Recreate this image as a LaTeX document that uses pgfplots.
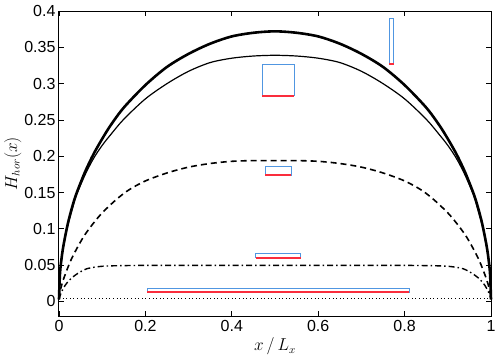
\documentclass[border=0pt]{standalone}
\usepackage{fontspec}
\setmainfont{Liberation Sans}
\usepackage{pgfplots}
\pgfplotsset{compat=1.18}
\usetikzlibrary{calc}

\definecolor{rblue}{RGB}{80,150,225}
\definecolor{rred}{RGB}{250,45,60}

\begin{document}
\begin{tikzpicture}
\begin{axis}[
    name=ax,
    scale only axis,
    width=432pt, height=305pt,
    xmin=0, xmax=1,
    ymin=-0.02, ymax=0.4,
    xtick={0,0.2,0.4,0.6,0.8,1},
    ytick={0,0.05,0.1,0.15,0.2,0.25,0.3,0.35,0.4},
    yticklabels={0,0.05,0.1,0.15,0.2,0.25,0.3,0.35,0.4},
    xticklabels={0,0.2,0.4,0.6,0.8,1},
    tick align=inside,
    tick pos=both,
    major tick length=5pt,
    axis line style={line width=1pt},
    tick style={line width=0.8pt, black},
    ticklabel style={font=\fontsize{16}{18}\selectfont},
    xticklabel style={yshift=-1pt},
    /pgf/number format/assume math mode=true,
    xlabel={$x\,/\,L_x$},
    ylabel={$H_{hor}(x)$},
    label style={font=\fontsize{16}{19}\selectfont},
    xlabel style={yshift=1pt},
    ylabel style={yshift=-4pt},
    clip=false,
]
% thick solid
\addplot[black, line width=2.6pt, smooth] coordinates {
(0,0.003) (0.002,0.036) (0.005,0.055) (0.01,0.076) (0.02,0.106) (0.03,0.129)
(0.04,0.148) (0.06,0.178) (0.08,0.203) (0.1,0.224) (0.12,0.243) (0.15,0.267)
(0.2,0.298) (0.25,0.323) (0.3,0.341) (0.35,0.355) (0.4,0.365) (0.45,0.370)
(0.5,0.372) (0.55,0.370) (0.6,0.365) (0.65,0.355) (0.7,0.341) (0.75,0.323)
(0.8,0.298) (0.85,0.267) (0.88,0.243) (0.9,0.224) (0.92,0.203) (0.94,0.178)
(0.96,0.148) (0.97,0.129) (0.98,0.106) (0.99,0.076) (0.995,0.055) (0.998,0.036) (1,0.003)};
% thin solid
\addplot[black, line width=1.2pt, smooth] coordinates {
(0,0.003) (0.002,0.035) (0.005,0.054) (0.01,0.075) (0.02,0.104) (0.03,0.126)
(0.04,0.146) (0.06,0.174) (0.08,0.197) (0.1,0.215) (0.12,0.230) (0.15,0.251)
(0.2,0.279) (0.25,0.300) (0.3,0.317) (0.35,0.329) (0.4,0.335) (0.45,0.338)
(0.5,0.339) (0.55,0.338) (0.6,0.335) (0.65,0.329) (0.7,0.317) (0.75,0.300)
(0.8,0.279) (0.85,0.251) (0.88,0.230) (0.9,0.215) (0.92,0.197) (0.94,0.174)
(0.96,0.146) (0.97,0.126) (0.98,0.104) (0.99,0.075) (0.995,0.054) (0.998,0.035) (1,0.003)};
% dashed
\addplot[black, line width=1.6pt, smooth, dash pattern=on 6pt off 4pt] coordinates {
(0,0.003) (0.002,0.012) (0.005,0.020) (0.01,0.030) (0.02,0.046) (0.03,0.060)
(0.045,0.077) (0.06,0.092) (0.08,0.108) (0.1,0.122) (0.13,0.139) (0.16,0.153)
(0.2,0.166) (0.25,0.177) (0.3,0.185) (0.35,0.190) (0.4,0.193) (0.45,0.194)
(0.5,0.194) (0.55,0.194) (0.6,0.193) (0.65,0.190) (0.7,0.185) (0.75,0.177)
(0.8,0.166) (0.84,0.153) (0.87,0.139) (0.9,0.122) (0.92,0.108) (0.94,0.092)
(0.955,0.077) (0.97,0.060) (0.98,0.046) (0.99,0.030) (0.995,0.020) (0.998,0.012) (1,0.003)};
% dash-dot
\addplot[black, line width=1.4pt, smooth, dash pattern=on 6pt off 3pt on 1.5pt off 3pt] coordinates {
(0,0.003) (0.002,0.007) (0.005,0.012) (0.014,0.022) (0.025,0.030) (0.037,0.036)
(0.05,0.041) (0.064,0.045) (0.08,0.047) (0.1,0.0485) (0.13,0.0492) (0.18,0.0496)
(0.25,0.0497) (0.5,0.0497) (0.75,0.0497) (0.82,0.0496) (0.87,0.0492) (0.9,0.0485)
(0.92,0.047) (0.936,0.045) (0.95,0.041) (0.963,0.036) (0.975,0.030) (0.986,0.022)
(0.995,0.012) (0.998,0.007) (1,0.003)};
% dotted
\addplot[black, line width=0.9pt, dash pattern=on 1pt off 2.6pt] coordinates {(0,0.004) (1,0.004)};

% aspect-ratio boxes: blue outline, red base
\addplot[rblue, line width=1pt] coordinates {(0.765,0.327) (0.775,0.327) (0.775,0.390) (0.765,0.390) (0.765,0.327)};
\addplot[rred, line width=2pt] coordinates {(0.765,0.3275) (0.775,0.3275)};
\addplot[rblue, line width=1pt] coordinates {(0.470,0.283) (0.545,0.283) (0.545,0.326) (0.470,0.326) (0.470,0.283)};
\addplot[rred, line width=2pt] coordinates {(0.470,0.2835) (0.545,0.2835)};
\addplot[rblue, line width=1pt] coordinates {(0.478,0.173) (0.538,0.173) (0.538,0.186) (0.478,0.186) (0.478,0.173)};
\addplot[rred, line width=2pt] coordinates {(0.478,0.1735) (0.538,0.1735)};
\addplot[rblue, line width=1pt] coordinates {(0.456,0.0600) (0.560,0.0600) (0.560,0.0666) (0.456,0.0666) (0.456,0.0600)};
\addplot[rred, line width=2pt] coordinates {(0.456,0.0605) (0.560,0.0605)};
\addplot[rblue, line width=1pt] coordinates {(0.204,0.0128) (0.811,0.0128) (0.811,0.0175) (0.204,0.0175) (0.204,0.0128)};
\addplot[rred, line width=2pt] coordinates {(0.204,0.0133) (0.811,0.0133)};
\end{axis}
\pgfresetboundingbox
\path ($(ax.south west)+(-59pt,-40pt)$) rectangle ($(ax.north east)+(7pt,11pt)$);
\end{tikzpicture}
\end{document}
